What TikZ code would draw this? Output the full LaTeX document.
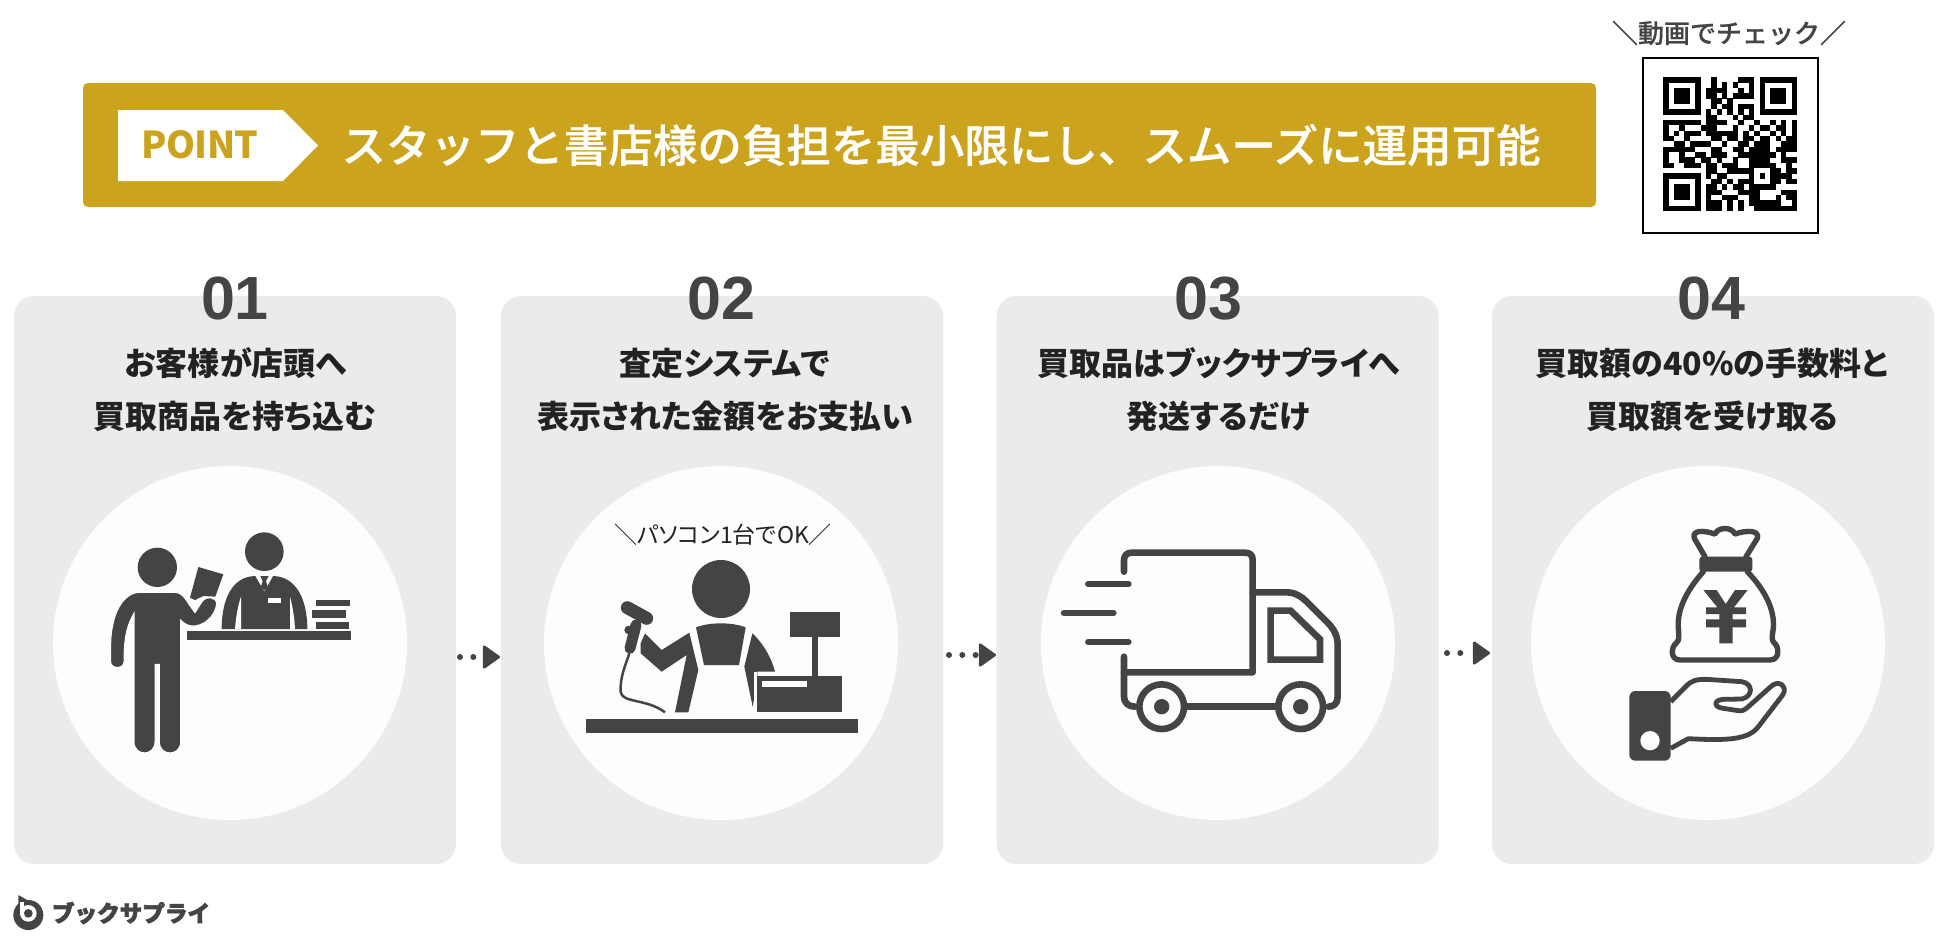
\documentclass[tikz,border=0pt]{standalone}
\usepackage{fontspec}
\usetikzlibrary{arrows.meta}
\setmainfont{Noto Sans CJK JP}
\newfontfamily\headfont[FakeBold=0.6]{Noto Sans CJK JP Medium}
\newfontfamily\cardfont[RawFeature={+palt}]{Noto Sans CJK JP}
\newfontfamily\tagfont[LetterSpace=-2]{Noto Sans CJK JP}
\newfontfamily\pcfont[RawFeature={+palt}]{Noto Sans CJK JP}
\newfontfamily\numfont{Liberation Sans}
\newfontfamily\logofont[FakeBold=3]{Noto Sans CJK JP}
\definecolor{gold}{HTML}{CCA31C}
\definecolor{cardgray}{HTML}{ECEBEC}
\definecolor{bubble}{HTML}{FDFDFC}
\definecolor{ink}{HTML}{444444}
\definecolor{cardtext}{HTML}{222222}
% one row of the code square, 0 and 1 up to a semicolon
\def\qrscan#1{\ifx;#1\else\ifx1#1\fill[black] ({1663+\qrx*5.36},{77+\qry*5.36}) rectangle +(5.5,5.5);\fi\pgfmathtruncatemacro\qrx{\qrx+1}\expandafter\qrscan\fi}
\begin{document}
\begin{tikzpicture}[x=1pt,y=-1pt]
    \tikzstyle{cardbox} = [fill=cardgray, rounded corners=20, minimum width=442, minimum height=568, inner sep=0]
    \tikzstyle{bubblebox} = [circle, fill=bubble, minimum size=354, inner sep=0]
    \tikzstyle{numtext} = [anchor=base, text=ink, font={\numfont\bfseries\fontsize{61}{61}\selectfont}]
    \tikzstyle{cardline} = [anchor=base, text=cardtext, font={\cardfont\bfseries\fontsize{32}{32}\selectfont}]
    \tikzstyle{flowline} = [ink, line width=6, line cap=round, dash pattern=on 0 off 13.3, -{Triangle[round, length=18, width=25, line width=2.5]}]
    \tikzstyle{icon} = [fill=ink]
    \tikzstyle{truckline} = [ink, line width=6.6, line cap=round, line join=round]
    \tikzstyle{bagline} = [ink, line width=5.4, line cap=round, line join=round]

    \useasboundingbox (0,0) rectangle (1950,938);
    \fill[white] (0,0) rectangle (1950,938);

    % top banner
    \node[fill=gold, rounded corners=5, minimum width=1513, minimum height=124, inner sep=0] (banner) at (839.5,145) {};
    \fill[white] (118,110) -- (283,110) -- (318,145.5) -- (283,181) -- (118,181) -- cycle;
    \node[text=gold, font={\tagfont\bfseries\fontsize{37}{37}\selectfont}] (point) at (200,145) {POINT};
    \node[text=white, font={\headfont\fontsize{44.5}{45}\selectfont}] (headline) at (941,145) {スタッフと書店様の負担を最小限にし、スムーズに運用可能};

    % code square
    \node[text=ink, font={\headfont\fontsize{26}{26}\selectfont}] (qrlabel) at (1729,33) {＼動画でチェック／};
    \node[draw=black, fill=white, line width=2, minimum size=175, inner sep=0] (qrframe) at (1730,145) {};
    \foreach \qrline [count=\qry from 0] in {
        1111111 0 010000111 0 1111111,
        1000001 0 010101001 0 1000001,
        1011101 0 111100101 0 1011101,
        1011101 0 110101111 0 1011101,
        1011101 0 011010000 0 1011101,
        1000001 0 010110111 0 1000001,
        1111111 0 101010101 0 1111111,
        0000000 0 110001011 0 0000000,
        1111111011110010010010101,
        1001000111000100101101101,
        1010111011111101010010101,
        1100100001101101101101011,
        0011011110010011011100111,
        1111110001100110111101111,
        1001001101110011111110100,
        1001110110100100111100111,
        1100111011011100111110010,
        0000000 0 11001111 1 0 0 0 1 1 0 1 1,
        1111111 0 10110 000 1 0 1 0 1 1 1 1 0,
        1000001 0 01101 011 1 0 0 0 1 1 0 1 1,
        1011101 0 11010 110 1 1 1 1 1 0 0 0 0,
        1011101 0 11100 011 1 1 0 0 0 0 1 1 1,
        1011101 0 10011 100 1 1 0 0 0 1 0 1 1,
        1000001 0 11101 010 1 1 1 1 1 1 0 0 1,
        1111111 0 11101 010 0 1 1 1 1 1 1 1 1}{
        \def\qrx{0}
        \expandafter\qrscan\qrline;
    }

    % cards
    \node[cardbox] (card1) at (235,580) {};
    \node[cardbox] (card2) at (722,580) {};
    \node[cardbox] (card3) at (1217.5,580) {};
    \node[cardbox] (card4) at (1713,580) {};
    \node[bubblebox] (bubble1) at (230,643) {};
    \node[bubblebox] (bubble2) at (721,643) {};
    \node[bubblebox] (bubble3) at (1218,643) {};
    \node[bubblebox] (bubble4) at (1708,643) {};

    \node[numtext] (num1) at (235,319) {01};
    \node[numtext] (num2) at (721,319) {02};
    \node[numtext] (num3) at (1208,319) {03};
    \node[numtext] (num4) at (1711,319) {04};

    \node[cardline] (line1a) at (236,375) {お客様が店頭へ};
    \node[cardline] (line1b) at (235,428) {買取商品を持ち込む};
    \node[cardline] (line2a) at (725,375) {査定システムで};
    \node[cardline] (line2b) at (725,428) {表示された金額をお支払い};
    \node[cardline] (line3a) at (1219,375) {買取品はブックサプライへ};
    \node[cardline] (line3b) at (1218,428) {発送するだけ};
    \node[cardline] (line4a) at (1712,375) {買取額の40\%の手数料と};
    \node[cardline] (line4b) at (1712,428) {買取額を受け取る};

    % flow between the cards
    \coordinate (flow1a) at (460,657);
    \coordinate (flow1b) at (500,657);
    \coordinate (flow2a) at (949,655);
    \coordinate (flow2b) at (996,655);
    \coordinate (flow3a) at (1447,653);
    \coordinate (flow3b) at (1490,653);
    \draw[flowline] (flow1a) -- (flow1b);
    \draw[flowline] (flow2a) -- (flow2b);
    \draw[flowline] (flow3a) -- (flow3b);

    % customer and clerk
    \begin{scope}[shift={(60,470)}, scale=1/3]
        \fill[icon] (292,292) circle (59);
        \fill[icon] (613,245) circle (58);
        \fill[icon] (415,291) -- (490,313) -- (466,380) -- (430,378) -- (405,390) -- (390,383) -- cycle;
        \fill[icon, draw=bubble, line width=1] (240,367) -- (345,367) .. controls (365,367) and (375,385) .. (385,400) -- (405,428) -- (428,392) .. controls (438,378) and (470,380) .. (470,402) .. controls (465,440) and (430,470) .. (395,468) .. controls (380,466) and (370,458) .. (362,450) -- (362,815) .. controls (362,860) and (298,860) .. (298,815) -- (298,583) -- (285,583) -- (285,815) .. controls (285,860) and (222,860) .. (222,815) -- (222,430) .. controls (205,460) and (192,490) .. (192,575) .. controls (192,598) and (152,598) .. (152,575) -- (152,530) .. controls (152,430) and (190,367) .. (240,367) -- cycle;
        \fill[icon] (485,477) .. controls (485,390) and (515,320) .. (585,318) -- (640,318) .. controls (710,320) and (742,390) .. (742,477) -- cycle;
        \fill[bubble] (585,316) -- (640,316) -- (613,364) -- cycle;
        \fill[icon] (601,318) -- (626,318) -- (618,333) -- (623,350) -- (613,362) -- (603,350) -- (608,333) -- cycle;
        \fill[bubble] (525,477) .. controls (528,440) and (533,410) .. (543,380) -- (543,477) -- cycle;
        \fill[bubble] (690,380) .. controls (698,410) and (703,440) .. (705,477) -- (690,477) -- cycle;
        \fill[bubble] (625,384) rectangle (663,398);
        \fill[icon] (380,483) rectangle (873,510);
        \fill[icon] (769,389) rectangle (869,409);
        \fill[icon] (757,419) rectangle (857,445);
        \fill[icon] (769,455) rectangle (867,477);
    \end{scope}

    % till and scanner
    \node[text=cardtext, font={\pcfont\fontsize{23}{23}\selectfont}] (pclabel) at (723,535) {＼パソコン1台でOK／};
    \begin{scope}[shift={(550,470)}, scale=1/3]
        \fill[icon] (513,357) circle (87);
        \fill[icon] (438,472) .. controls (480,456) and (545,456) .. (587,472) -- (567,585) -- (462,585) -- cycle;
        \fill[icon] (607,490) .. controls (640,520) and (665,565) .. (675,605) -- (622,605) -- (622,630) -- (608,710) -- (583,590) -- cycle;
        \fill[icon] (272,520) -- (285,490) -- (335,540) -- (418,488) -- (445,600) -- (415,727) -- (375,727) -- (410,555) -- (335,605) -- (272,550) -- cycle;
        \draw[ink, line width=13, line cap=round] (232,413) -- (290,445);
        \draw[ink, line width=11, line cap=round] (258,465) -- (240,535);
        \fill[icon] (236,480) circle (13);
        \draw[ink, line width=2.5] (238,550) .. controls (225,590) and (210,620) .. (212,665) .. controls (215,700) and (290,685) .. (345,727);
        \fill[icon] (720,425) rectangle (871,502);
        \fill[icon] (787,502) rectangle (804,620);
        \fill[bubble] (612,606) rectangle (622,727);
        \fill[icon] (622,618) rectangle (875,727);
        \fill[bubble] (636,634) rectangle (770,651);
        \fill[icon] (107,747) rectangle (925,790);
    \end{scope}

    % truck
    \begin{scope}[shift={(1040,500)}, scale=1/3]
        \draw[truckline] (252,215) -- (252,180) .. controls (252,165) and (262,158) .. (275,158) -- (615,158) .. controls (630,158) and (638,165) .. (638,180) -- (638,517) -- (252,517);
        \draw[truckline] (252,470) -- (252,590) .. controls (252,608) and (265,620) .. (285,620);
        \draw[truckline] (145,252) -- (265,252);
        \draw[truckline] (72,339) -- (220,339);
        \draw[truckline] (145,426) -- (265,426);
        \draw[truckline] (638,277) -- (740,277) .. controls (765,277) and (785,290) .. (800,305) -- (860,365) .. controls (880,385) and (893,405) .. (893,435) -- (893,590) .. controls (893,610) and (882,620) .. (865,620);
        \draw[truckline] (440,620) -- (705,620);
        \draw[ink, line width=6.6, line join=miter] (692,332) -- (752,332) -- (840,418) -- (840,479) -- (692,479) -- cycle;
        \draw[ink, line width=6.6, fill=bubble] (365,620) circle (67);
        \draw[ink, line width=6.6, fill=bubble] (782,620) circle (67);
        \fill[icon] (365,620) circle (23);
        \fill[icon] (782,620) circle (23);
    \end{scope}

    % money bag and hand
    \begin{scope}[shift={(1560,500)}, scale=1/3]
        \draw[bagline] (435,170) -- (403,115) .. controls (395,90) and (430,90) .. (465,102) .. controls (475,80) and (515,80) .. (525,102) .. controls (560,90) and (600,90) .. (592,115) -- (558,170);
        \fill[icon, rounded corners=3] (418,170) rectangle (577,215);
        \draw[bagline] (430,215) .. controls (385,265) and (350,325) .. (355,385) .. controls (357,410) and (358,420) .. (350,428) .. controls (332,440) and (330,480) .. (360,480) -- (630,480) .. controls (660,480) and (658,440) .. (642,428) .. controls (634,420) and (636,410) .. (640,385) .. controls (645,325) and (610,265) .. (562,215);
        \fill[icon] (430,270) -- (470,270) -- (497,312) -- (525,270) -- (563,270) -- (522,322) -- (558,322) -- (558,342) -- (518,342) -- (518,358) -- (558,358) -- (558,382) -- (518,382) -- (518,430) -- (478,430) -- (478,382) -- (438,382) -- (438,358) -- (478,358) -- (478,342) -- (438,342) -- (438,322) -- (472,322) -- cycle;
        \fill[icon, rounded corners=6] (208,573) rectangle (332,782);
        \fill[bubble] (270,722) circle (29);
        \draw[ink, line width=4.8, line join=round] (332,605) -- (375,562) .. controls (395,540) and (410,538) .. (440,538) -- (545,545) .. controls (580,550) and (580,590) .. (545,597) -- (490,598) .. controls (460,600) and (460,622) .. (490,625) -- (535,632) .. controls (550,634) and (555,628) .. (565,620) -- (630,562) .. controls (655,535) and (685,560) .. (668,585) -- (595,680) .. controls (565,720) and (500,722) .. (385,716) -- (332,745);
    \end{scope}

    % logo
    \begin{scope}[shift={(0,880)}, scale=1/3]
        \fill[icon] (85,105) circle (45);
        \fill[icon] (55,45) -- (85,62) -- (55,80) -- cycle;
        \fill[white] (60,65) -- (72,65) -- (72,100) -- (60,100) -- cycle;
        \fill[white] (85,100) circle (25);
        \fill[icon] (85,100) circle (13);
    \end{scope}
    \node[text=ink, font={\logofont\bfseries\fontsize{22.6}{23}\selectfont}] (logotext) at (131,913) {ブックサプライ};
\end{tikzpicture}
\end{document}
